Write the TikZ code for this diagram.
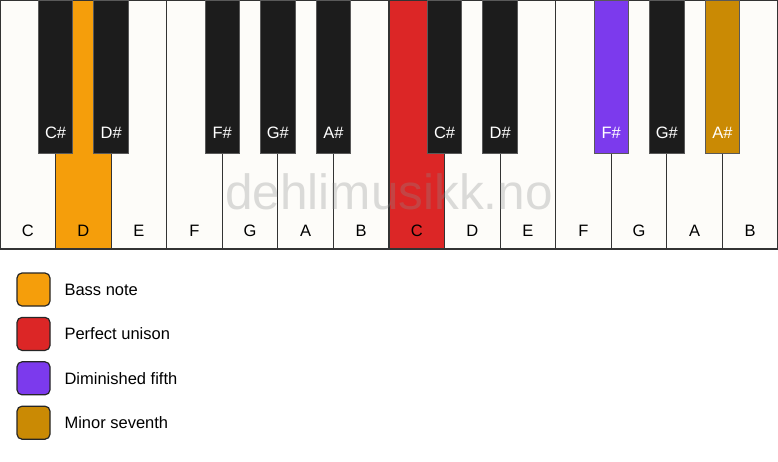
\documentclass[tikz,border=0pt]{standalone}
\usepackage{fontspec}
\setmainfont{Liberation Sans}
\definecolor{ivory}{HTML}{FDFCF9}
\definecolor{ebony}{HTML}{1C1C1C}
\definecolor{bassnote}{HTML}{F59E0B}
\definecolor{unison}{HTML}{DC2626}
\definecolor{dimfifth}{HTML}{7C3AED}
\definecolor{minseventh}{HTML}{CA8A04}
\tikzset{
  whitekey/.style={draw=black!80,line width=1.2pt},
  blackkey/.style={draw=black!65,line width=0.8pt},
  whitelabel/.style={font=\fontsize{16.5}{16.5}\selectfont,text=black},
  blacklabel/.style={font=\fontsize{16.5}{16.5}\selectfont,text=white},
  legendbox/.style={draw=black!85,line width=1.2pt,rounded corners=5pt,minimum size=33pt,inner sep=0pt},
  legendtext/.style={font=\fontsize{16.5}{16.5}\selectfont,anchor=west}
}
\begin{document}
\begin{tikzpicture}[x=1pt,y=-1pt]
  \useasboundingbox (0,0) rectangle (778,461);
  \fill[white] (0,0) rectangle (778,461);
  % white keys
  \foreach \n/\c [count=\i from 0] in {C/ivory,D/bassnote,E/ivory,F/ivory,G/ivory,A/ivory,B/ivory,
      C/unison,D/ivory,E/ivory,F/ivory,G/ivory,A/ivory,B/ivory} {
    \draw[whitekey,fill=\c] (\i*55.57,0) rectangle ++(55.57,249);
    \node[whitelabel] (w\i) at (\i*55.57+27.78,230.5) {\n};
  }
  \node[font=\fontsize{49.5}{49.5}\selectfont,text=black!45,opacity=0.3,anchor=base] (mark) at (389,209.5) {dehlimusikk.no};
  % black keys
  \foreach \k/\n/\c in {1/C\#/ebony,2/D\#/ebony,4/F\#/ebony,5/G\#/ebony,6/A\#/ebony,
      8/C\#/ebony,9/D\#/ebony,11/F\#/dimfifth,12/G\#/ebony,13/A\#/minseventh} {
    \draw[blackkey,fill=\c] (\k*55.57-17.25,0) rectangle ++(34.5,153);
    \node[blacklabel] (b\k) at (\k*55.57,133) {\n};
  }
  % legend
  \foreach \c/\t [count=\j from 0] in {bassnote/Bass note,unison/Perfect unison,
      dimfifth/Diminished fifth,minseventh/Minor seventh} {
    \node[legendbox,fill=\c] (box\j) at (33.5,289.5+\j*44.4) {};
    \node[legendtext] (txt\j) at (61,289.5+\j*44.4) {\t};
  }
\end{tikzpicture}
\end{document}
